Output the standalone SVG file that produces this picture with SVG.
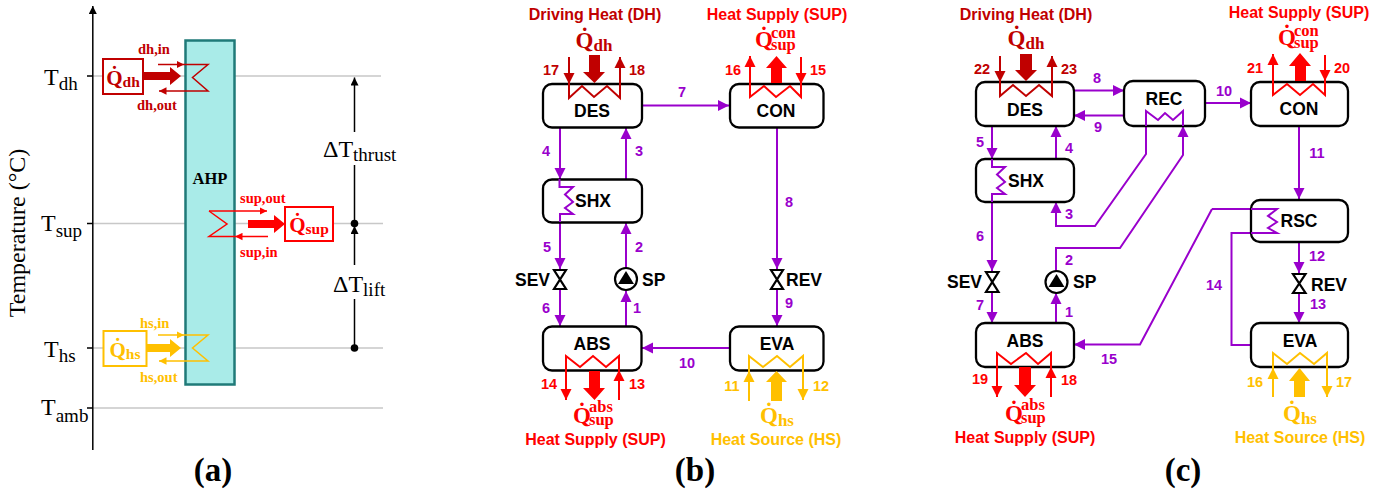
<svg xmlns="http://www.w3.org/2000/svg" width="1397" height="496" viewBox="0 0 1397 496">
<style>
text{font-family:"Liberation Sans",Arial,sans-serif;font-weight:700}
.m{font-family:"Liberation Serif","Times New Roman",serif;font-weight:400;font-size:24px}
.m tspan{font-size:19px}
.q{font-family:"Liberation Serif","Times New Roman",serif;font-size:23px;text-anchor:middle}
.q tspan{font-size:17px}
.qb{font-family:"Liberation Serif","Times New Roman",serif;font-size:21px;text-anchor:middle}
.qb tspan{font-size:15.5px}
.qs{font-family:"Liberation Serif","Times New Roman",serif;font-size:23px}
.s{font-family:"Liberation Serif","Times New Roman",serif;font-size:16.5px}
.l{font-family:"Liberation Serif","Times New Roman",serif;font-size:14.5px}
.cap{font-family:"Liberation Serif","Times New Roman",serif;font-size:33px;text-anchor:middle}
.n{font-size:14.5px;text-anchor:middle;fill:#9900CC}
.h{font-size:16px;text-anchor:middle}
.t{font-size:17.5px;text-anchor:middle;fill:#000}
.st{font-size:17.5px;fill:#000}
.box{fill:#fff;stroke:#000;stroke-width:2.3}
.p,.hx{fill:none;stroke-width:2}
.hy{fill:none;stroke-width:1.5}
.pu{stroke:#9900CC}.dh{stroke:#C00000}.su{stroke:#FF0000}.hs{stroke:#FFC000}
.fdh{fill:#C00000}.fsu{fill:#FF0000}.fhs{fill:#FFC000}
.v{fill:#fff;stroke:#000;stroke-width:2.2}
.g{stroke:#C8C8C8;stroke-width:1.3;fill:none}
.k{stroke:#000;stroke-width:1.5;fill:none}
</style>
<defs>
<marker id="ap" markerUnits="userSpaceOnUse" markerWidth="12" markerHeight="12" refX="11" refY="6" orient="auto"><path d="M0 .5L11 6L0 11.5z" fill="#9900CC"/></marker>
<marker id="ad" markerUnits="userSpaceOnUse" markerWidth="12" markerHeight="12" refX="11" refY="6" orient="auto"><path d="M0 .5L11 6L0 11.5z" fill="#C00000"/></marker>
<marker id="as" markerUnits="userSpaceOnUse" markerWidth="12" markerHeight="12" refX="11" refY="6" orient="auto"><path d="M0 .5L11 6L0 11.5z" fill="#FF0000"/></marker>
<marker id="ah" markerUnits="userSpaceOnUse" markerWidth="12" markerHeight="12" refX="11" refY="6" orient="auto"><path d="M0 .5L11 6L0 11.5z" fill="#FFC000"/></marker>
<marker id="sd" markerUnits="userSpaceOnUse" markerWidth="8" markerHeight="8" refX="7.500" refY="4" orient="auto"><path d="M0 .3L7.500 4L0 7.700z" fill="#C00000"/></marker>
<marker id="ss" markerUnits="userSpaceOnUse" markerWidth="8" markerHeight="8" refX="7.500" refY="4" orient="auto"><path d="M0 .3L7.500 4L0 7.700z" fill="#FF0000"/></marker>
<marker id="sh" markerUnits="userSpaceOnUse" markerWidth="8" markerHeight="8" refX="7.500" refY="4" orient="auto"><path d="M0 .3L7.500 4L0 7.700z" fill="#FFC000"/></marker>
<marker id="ak" markerUnits="userSpaceOnUse" markerWidth="10" markerHeight="10" refX="8" refY="4" orient="auto"><path d="M0 0L8 4L0 8z" fill="#000"/></marker>
</defs>

<g id="panel-a">
<path class="g" d="M93 76H381M93 223.500H383M93 348H383M93 408H383"/>
<path class="k" d="M87 76H93M87 223.500H93M87 348H93M87 408H93"/>
<path class="k" d="M92.800 450V6" marker-end="url(#ak)"/>
<g id="ahp"><rect x="185.500" y="40.500" width="49" height="344" fill="#A9EBE8" stroke="#1F7A78" stroke-width="2.500"/><text class="l" x="210" y="184" text-anchor="middle" style="font-size:16.500px">AHP</text></g>
<text class="m" x="44" y="85">T<tspan dy="5">dh</tspan></text>
<text class="m" x="41" y="231">T<tspan dy="6">sup</tspan></text>
<text class="m" x="44" y="357">T<tspan dy="5">hs</tspan></text>
<text class="m" x="41" y="415">T<tspan dy="7">amb</tspan></text>
<text class="m" transform="translate(25 233) rotate(-90)" text-anchor="middle">Temperature (°C)</text>
<g id="dt"><path class="k" d="M354.500 132V77.500" marker-end="url(#ak)"/><path class="k" d="M354.500 165V223"/><circle cx="354.500" cy="223.500" r="3.800"/><path class="k" d="M354.500 265V226" marker-end="url(#ak)"/><path class="k" d="M354.500 299V348"/><circle cx="354.500" cy="348" r="3.800"/>
<text class="m" x="323" y="157">ΔT<tspan dy="4">thrust</tspan></text>
<text class="m" x="333" y="292">ΔT<tspan dy="4">lift</tspan></text></g>
<g id="q-dh-a"><rect x="103" y="59" width="40" height="35" fill="#fff" stroke="#C00000" stroke-width="2"/><text class="qb fdh" x="123" y="85">Q̇<tspan dy="2">dh</tspan></text>
<path class="fdh" d="M143 72H170V67L181 76L170 85V80H143z"/>
<path class="hy dh" d="M158 64.500H184" marker-end="url(#sd)"/><path class="hy dh" d="M184 64.500H208L192.500 77.500L208 91H159" marker-end="url(#sd)"/>
<text class="l fdh" x="138" y="54">dh,in</text><text class="l fdh" x="137" y="110">dh,out</text></g>
<g id="q-sup-a"><rect x="285" y="207" width="48" height="34" fill="#fff" stroke="#FF0000" stroke-width="2"/><text class="qb fsu" x="309" y="232">Q̇<tspan dy="2">sup</tspan></text>
<path class="fsu" d="M248 220H274V215L285 224L274 233V228H248z"/>
<path class="hy su" d="M209 211H267" marker-end="url(#ss)"/><path class="hy su" d="M209 211L227 224L209 236.500H235"/><path class="hy su" d="M268 236.500H235" marker-end="url(#ss)"/>
<text class="l fsu" x="240" y="203">sup,out</text><text class="l fsu" x="240" y="257">sup,in</text></g>
<g id="q-hs-a"><rect x="103.500" y="331" width="43" height="35" fill="#fff" stroke="#FFC000" stroke-width="2"/><text class="qb fhs" x="125" y="357">Q̇<tspan dy="2">hs</tspan></text>
<path class="fhs" d="M146 344H170V339L181 348L170 357V352H146z"/>
<path class="hy hs" d="M158 335H184" marker-end="url(#sh)"/><path class="hy hs" d="M184 335H208L192.500 348L208 361H159" marker-end="url(#sh)"/>
<text class="l fhs" x="140" y="328">hs,in</text><text class="l fhs" x="140" y="382">hs,out</text></g>
<text class="cap" x="213" y="481">(a)</text>
</g>

<g id="panel-b">
<g id="connectors-b">
<path class="p pu" d="M642 105.500H729" marker-end="url(#ap)"/>
<path class="p pu" d="M560 128V179" marker-end="url(#ap)"/>
<path class="p pu" d="M626 180V128" marker-end="url(#ap)"/>
<path class="p pu" d="M626 268V223" marker-end="url(#ap)"/>
<path class="p pu" d="M626 326V291" marker-end="url(#ap)"/>
<path class="p pu" d="M560 215V269" marker-end="url(#ap)"/>
<path class="p pu" d="M560 289V326" marker-end="url(#ap)"/>
<path class="p pu" d="M777 128V269" marker-end="url(#ap)"/>
<path class="p pu" d="M777 289V326" marker-end="url(#ap)"/>
<path class="p pu" d="M730 348H642" marker-end="url(#ap)"/>
</g>
<g id="b-des"><rect class="box" x="543" y="84" width="99" height="43.500" rx="9"/><text class="t" x="592" y="117">DES</text>
<path class="hx dh" d="M569 57V84" marker-end="url(#ad)"/><path class="hx dh" d="M569 84V98L582 86L594 97L607 86L620 98V57" marker-end="url(#ad)"/>
<path class="fdh" d="M589 55H600V72H605L594.500 83L583 72H589z"/></g>
<g id="b-con"><rect class="box" x="730" y="84" width="93.500" height="43.500" rx="9"/><text class="t" x="776" y="117">CON</text>
<path class="hx su" d="M801 57V84" marker-end="url(#as)"/><path class="hx su" d="M801 84V97L790 86L776 97L764 86L750 97V56" marker-end="url(#as)"/>
<path class="fsu" d="M771 83H782V68H787L776.500 56L766 68H771z"/></g>
<g id="b-shx"><rect class="box" x="543" y="179.500" width="99" height="43" rx="9"/><text class="t" x="593" y="207">SHX</text>
<path class="hx pu" d="M559.500 179V187H573L565 194.500L573 202L565 208L573 214H560V222"/></g>
<g id="b-abs"><rect class="box" x="543" y="326.500" width="98.500" height="44" rx="9"/><text class="t" x="592" y="350">ABS</text>
<path class="hx su" d="M619 400V370" marker-end="url(#as)"/><path class="hx su" d="M619 370V356L606 367L593 356L580 367L566 356V400" marker-end="url(#as)"/>
<path class="fsu" d="M589 371H600V388H605L594.500 400L583 388H589z"/></g>
<g id="b-eva"><rect class="box" x="730" y="326.500" width="93.500" height="44" rx="9"/><text class="t" x="777" y="350">EVA</text>
<path class="hx hs" d="M749 401V371" marker-end="url(#ah)"/><path class="hx hs" d="M749 371V356L763 367L777 356L790 367L803 356V400" marker-end="url(#ah)"/>
<path class="fhs" d="M771 401H782V382H787L776.500 371L766 382H771z"/></g>
<g id="b-sev"><path class="v" d="M554 270H566L554 289H566z"/><text class="st" x="515" y="286">SEV</text></g>
<g id="b-rev"><path class="v" d="M771 270H783L771 289H783z"/><text class="st" x="786" y="286">REV</text></g>
<g id="b-sp"><circle class="v" cx="626" cy="279" r="11"/><path d="M626 271L634 284H618z"/><text class="st" x="642" y="286">SP</text></g>
<text class="h fdh" x="595" y="20">Driving Heat (DH)</text><text class="h fsu" x="777" y="20">Heat Supply (SUP)</text>
<text class="h fsu" x="595.500" y="445">Heat Supply (SUP)</text><text class="h fhs" x="776" y="445">Heat Source (HS)</text>
<text class="q fdh" x="594" y="48">Q̇<tspan dy="3">dh</tspan></text>
<text class="qs fsu" x="755" y="47">Q̇</text><text class="s fsu" x="771" y="38">con</text><text class="s fsu" x="771" y="50">sup</text>
<text class="qs fsu" x="573" y="423">Q̇</text><text class="s fsu" x="589" y="412">abs</text><text class="s fsu" x="589" y="425">sup</text>
<text class="q fhs" x="777" y="423">Q̇<tspan dy="3">hs</tspan></text>
<g class="nums">
<text class="n" x="551" y="75" style="fill:#C00000">17</text><text class="n" x="637" y="75" style="fill:#C00000">18</text><text class="n" x="733" y="75" style="fill:#FF0000">16</text><text class="n" x="818" y="75" style="fill:#FF0000">15</text>
<text class="n" x="682" y="97">7</text><text class="n" x="546" y="156">4</text><text class="n" x="639" y="156">3</text><text class="n" x="789" y="207">8</text><text class="n" x="547" y="252">5</text><text class="n" x="639" y="252">2</text><text class="n" x="546" y="313">6</text><text class="n" x="637" y="313">1</text><text class="n" x="789" y="308">9</text><text class="n" x="687" y="368">10</text>
<text class="n" x="549" y="389" style="fill:#FF0000">14</text><text class="n" x="637" y="389" style="fill:#FF0000">13</text><text class="n" x="732" y="391" style="fill:#FFC000">11</text><text class="n" x="821" y="391" style="fill:#FFC000">12</text></g>
<text class="cap" x="695" y="481">(b)</text>
</g>

<g id="panel-c">
<g id="connectors-c">
<path class="p pu" d="M1074 90.500H1124" marker-end="url(#ap)"/>
<path class="p pu" d="M1124 115.500H1074" marker-end="url(#ap)"/>
<path class="p pu" d="M1205 103H1251" marker-end="url(#ap)"/>
<path class="p pu" d="M992 126V159" marker-end="url(#ap)"/>
<path class="p pu" d="M1056 159V126" marker-end="url(#ap)"/>
<path class="p pu" d="M1146 111V154L1095 226H1056V202" marker-end="url(#ap)"/>
<path class="p pu" d="M1056 271V248H1120L1183 155V126" marker-end="url(#ap)"/>
<path class="p pu" d="M1056 323V293" marker-end="url(#ap)"/>
<path class="p pu" d="M992 196V271" marker-end="url(#ap)"/>
<path class="p pu" d="M992 292V323" marker-end="url(#ap)"/>
<path class="p pu" d="M1299 126V199" marker-end="url(#ap)"/>
<path class="p pu" d="M1299 242V273" marker-end="url(#ap)"/>
<path class="p pu" d="M1299 293V323" marker-end="url(#ap)"/>
<path class="p pu" d="M1212 209L1140 344.500H1074" marker-end="url(#ap)"/>
<path class="p pu" d="M1251 345H1231.500V233H1251"/>
<path class="p pu" d="M1212 209H1251"/>
</g>
<g id="c-des"><rect class="box" x="976" y="82" width="98" height="44" rx="9"/><text class="t" x="1025" y="116">DES</text>
<path class="hx dh" d="M1000 56V82" marker-end="url(#ad)"/><path class="hx dh" d="M1000 82V96L1013 85L1026 96L1039 85L1052 96V56" marker-end="url(#ad)"/>
<path class="fdh" d="M1020 54H1032V70H1037L1026 81L1015 70H1020z"/></g>
<g id="c-shx"><rect class="box" x="976" y="159" width="98" height="43" rx="9"/><text class="t" x="1026" y="187">SHX</text>
<path class="hx pu" d="M992 159V167H1005L997 174.500L1005 182L997 188L1005 194H992V202"/></g>
<g id="c-rec"><rect class="box" x="1124" y="81" width="81" height="45" rx="9"/><text class="t" x="1164" y="105">REC</text>
<path class="hx pu" d="M1146 126V111L1158 120L1165 113L1173 120L1183 111V126"/></g>
<g id="c-con"><rect class="box" x="1251" y="82" width="97" height="44" rx="9"/><text class="t" x="1299" y="115">CON</text>
<path class="hx su" d="M1325 55V81" marker-end="url(#as)"/><path class="hx su" d="M1325 81V95L1313 84L1300 95L1287 84L1273 95V54" marker-end="url(#as)"/>
<path class="fsu" d="M1295 81H1306V66H1311L1300 53L1289 66H1295z"/></g>
<g id="c-rsc"><rect class="box" x="1251" y="200" width="97" height="42" rx="9"/><text class="t" x="1299" y="227">RSC</text>
<path class="hx pu" d="M1251 209H1277L1268 216L1277 222L1268 228L1277 233H1251"/></g>
<g id="c-abs"><rect class="box" x="976" y="323" width="98" height="44" rx="9"/><text class="t" x="1025" y="347">ABS</text>
<path class="hx su" d="M1051 397V367" marker-end="url(#as)"/><path class="hx su" d="M1051 367V353L1038 364L1026 353L1011 364L997 353V397" marker-end="url(#as)"/>
<path class="fsu" d="M1019 367H1031V385H1036L1025 397L1014 385H1019z"/></g>
<g id="c-eva"><rect class="box" x="1251" y="323" width="97" height="44" rx="9"/><text class="t" x="1300" y="347">EVA</text>
<path class="hx hs" d="M1273 397V368" marker-end="url(#ah)"/><path class="hx hs" d="M1273 368V353L1287 364L1300 353L1314 364L1327 353V397" marker-end="url(#ah)"/>
<path class="fhs" d="M1294 397H1305V381H1310L1299.500 368L1289 381H1294z"/></g>
<g id="c-sev"><path class="v" d="M986 272H998.500L986 292H998.500z"/><text class="st" x="947" y="288">SEV</text></g>
<g id="c-rev"><path class="v" d="M1293 274H1305.500L1293 293H1305.500z"/><text class="st" x="1311" y="291">REV</text></g>
<g id="c-sp"><circle class="v" cx="1056.500" cy="282" r="11"/><path d="M1056.500 274L1064.500 287H1048.500z"/><text class="st" x="1073" y="288">SP</text></g>
<text class="h fdh" x="1026" y="20">Driving Heat (DH)</text><text class="h fsu" x="1299" y="18">Heat Supply (SUP)</text>
<text class="h fsu" x="1025" y="443">Heat Supply (SUP)</text><text class="h fhs" x="1300" y="443">Heat Source (HS)</text>
<text class="q fdh" x="1026" y="46">Q̇<tspan dy="3">dh</tspan></text>
<text class="qs fsu" x="1278" y="45">Q̇</text><text class="s fsu" x="1294" y="36">con</text><text class="s fsu" x="1294" y="48">sup</text>
<text class="qs fsu" x="1005" y="421">Q̇</text><text class="s fsu" x="1021" y="410">abs</text><text class="s fsu" x="1021" y="423">sup</text>
<text class="q fhs" x="1300" y="421">Q̇<tspan dy="3">hs</tspan></text>
<g class="nums">
<text class="n" x="982" y="74" style="fill:#C00000">22</text><text class="n" x="1069" y="74" style="fill:#C00000">23</text><text class="n" x="1255" y="73" style="fill:#FF0000">21</text><text class="n" x="1342" y="73" style="fill:#FF0000">20</text>
<text class="n" x="1097" y="83">8</text><text class="n" x="1098" y="132">9</text><text class="n" x="1224" y="96">10</text><text class="n" x="980" y="147">5</text><text class="n" x="1069" y="153">4</text><text class="n" x="1069" y="219">3</text><text class="n" x="1317" y="158">11</text><text class="n" x="980" y="241">6</text><text class="n" x="1069" y="265">2</text><text class="n" x="980" y="310">7</text><text class="n" x="1069" y="317">1</text><text class="n" x="1317" y="261">12</text><text class="n" x="1318" y="309">13</text><text class="n" x="1214" y="290">14</text><text class="n" x="1109" y="364">15</text>
<text class="n" x="980" y="384" style="fill:#FF0000">19</text><text class="n" x="1069" y="385" style="fill:#FF0000">18</text><text class="n" x="1255" y="387" style="fill:#FFC000">16</text><text class="n" x="1344" y="387" style="fill:#FFC000">17</text></g>
<text class="cap" x="1183" y="481">(c)</text>
</g>
</svg>
